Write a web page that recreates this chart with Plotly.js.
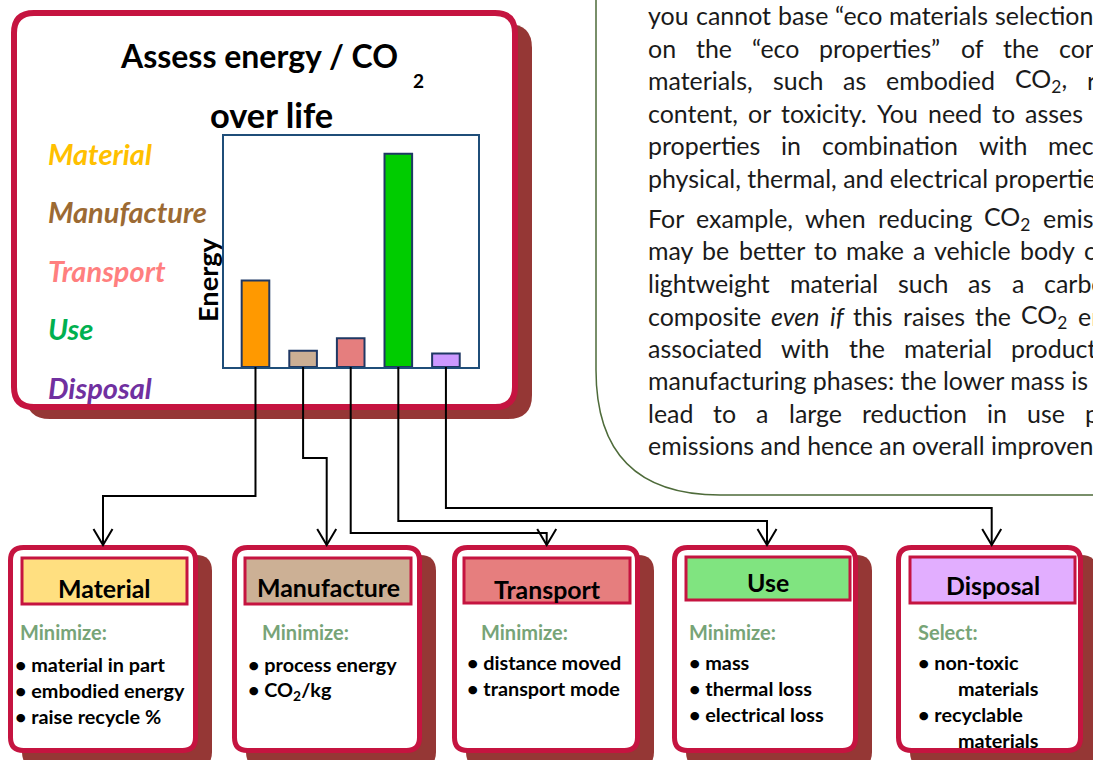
<!DOCTYPE html>
<html><head><meta charset="utf-8">
<script src="https://cdn.plot.ly/plotly-3.0.1.min.js"></script>
<style>html,body{margin:0;padding:0;background:#fff;overflow:hidden}</style>
</head><body><div id="chart" style="width:1093px;height:760px"></div>
<script>
// ---------- data ----------
const phases = ['Material','Manufacture','Transport','Use','Disposal'];
const energy = [37.4, 7.0, 12.5, 92.3, 5.8];
const barColors = ['#FF9900','#CBAF94','#E57E7E','#00CC00','#CC99FF'];
const labelColors = ['#FFC000','#9C6A33','#FF7F7F','#00B050','#7030A0'];
const headerFills = ['#FFDF80','#CCB095','#E67E7E','#80E480','#E2AEFF'];
const actionWords = ['Minimize:','Minimize:','Minimize:','Minimize:','Select:'];
const actionItems = [
  ['• material in part','• embodied energy','• raise recycle %'],
  ['• process energy','• CO<sub>2</sub>/kg'],
  ['• distance moved','• transport mode'],
  ['• mass','• thermal loss','• electrical loss'],
  ['• non-toxic','>materials','• recyclable','>materials']
];
const titleLine1 = 'Assess energy / CO';
const titleSub = '2';
const titleLine2 = 'over life';
const yTitle = 'Energy';
const paraLines = [
  ['you cannot base “eco materials selection', 7],
  ['on the “eco properties” of the con', 20],
  ['materials, such as embodied CO<sub>2</sub>, r', 20],
  ['content, or toxicity. You need to asses', 10],
  ['properties in combination with mec', 21],
  ['physical, thermal, and electrical propertie', null],
  ['For example, when reducing CO<sub>2</sub> emis', 12],
  ['may be better to make a vehicle body o', 9],
  ['lightweight material such as a carbo', 20],
  ['composite <i>even if</i> this raises the CO<sub>2</sub> em', 10],
  ['associated with the material producti', 19],
  ['manufacturing phases: the lower mass is', null],
  ['lead to a large reduction in use pha', 20],
  ['emissions and hence an overall improven', null]
];

// ---------- geometry helpers ----------
const W = 1093, H = 760;
const X = p => p / W, Y = p => 1 - p / H;
const FONT = 'Lato, "Open Sans", sans-serif';
function rr(x0, y0, x1, y1, r) {
  return `M${X(x0+r)},${Y(y0)} L${X(x1-r)},${Y(y0)} Q${X(x1)},${Y(y0)} ${X(x1)},${Y(y0+r)} ` +
         `L${X(x1)},${Y(y1-r)} Q${X(x1)},${Y(y1)} ${X(x1-r)},${Y(y1)} L${X(x0+r)},${Y(y1)} ` +
         `Q${X(x0)},${Y(y1)} ${X(x0)},${Y(y1-r)} L${X(x0)},${Y(y0+r)} Q${X(x0)},${Y(y0)} ${X(x0+r)},${Y(y0)} Z`;
}
function poly(pts) { return pts.map((p, i) => (i ? 'L' : 'M') + X(p[0]) + ',' + Y(p[1])).join(' '); }
const shapes = [], annotations = [];
function addShape(path, fill, color, width, layer) {
  shapes.push({type: 'path', xref: 'paper', yref: 'paper', path: path, layer: layer || 'below',
    fillcolor: fill || 'rgba(0,0,0,0)', line: {color: color || 'rgba(0,0,0,0)', width: width || 0}});
}
function ann(text, x, y, o) {
  o = o || {};
  annotations.push({text: text, x: X(x), y: Y(y), xref: 'paper', yref: 'paper', showarrow: false,
    xanchor: o.xa || 'left', yanchor: 'middle', borderpad: 0, borderwidth: 0, textangle: o.angle || 0,
    font: {family: FONT, size: o.size || 17, color: o.color || '#000', weight: o.weight || 'normal', style: o.style || 'normal'}});
}
const cv = document.createElement('canvas').getContext('2d');
function measure(txt, size, italic, bold) {
  let w = 0;
  const parts = txt.split(/<sub>(.*?)<\/sub>/);
  parts.forEach((s, k) => {
    const sz = k % 2 ? size * 0.7 : size;
    cv.font = `${italic ? 'italic ' : ''}${bold ? 'bold ' : ''}${sz}px ${FONT}`;
    w += cv.measureText(s).width;
  });
  return w;
}
// font size giving a text the width it has in the reference picture
const fit = (txt, target, italic, bold) => 20 * target / measure(txt, 20, italic, bold);

// ---------- plot frame ----------
const frame = {l: 224.3, r: 478.3, t: 136, b: 367};
const xr = [-0.655, 4.68];
const barPx = i => frame.l + (i - xr[0]) / (xr[1] - xr[0]) * (frame.r - frame.l);

// ---------- big box ----------
const CRIMSON = '#C51440', SHADOW = '#953735';
addShape(rr(26, 24, 532, 419, 24), SHADOW);
addShape(rr(14, 13, 515, 407, 20), '#fff', CRIMSON, 6);

// ---------- text box (green border) ----------
addShape(`M${X(596)},${Y(0)} L${X(596)},${Y(370)} Q${X(596)},${Y(495)} ${X(720)},${Y(495)} L${X(1093)},${Y(495)}`, null, '#4E6B3A', 1.5);

// ---------- bottom boxes ----------
const headSize = fit('Manufacture', 143, false, true);
const actSize = fit('Minimize:', 87, false, true);
const itemSize = fit('• material in part', 150, false, true);
const boxes = [[8,198],[232,422],[452,640],[672,858],[896,1083]];
const heads = [[22,187,558,604],[245,411,558,604],[464,630,558,603],[686,850,557,600],[910,1075,557,603]];
const headY = [588,587,589,582,585];
const actX = [20,262,481,689,918];
const itemX = [15,248,467,689,918];
const itemY0 = [664,664,662,662,662];
boxes.forEach((b, i) => {
  addShape(rr(b[0]+14, 555, b[1]+14, 768, 16), SHADOW);
  addShape(rr(b[0]+2.5, 547.5, b[1]-2.5, 750.5, 13), '#fff', CRIMSON, 5);
  const h = heads[i];
  addShape(poly([[h[0],h[2]],[h[1],h[2]],[h[1],h[3]],[h[0],h[3]]]) + ' Z', headerFills[i], CRIMSON, 3);
  ann(phases[i], (h[0]+h[1])/2, headY[i], {xa: 'center', size: headSize, weight: 'bold'});
  ann(actionWords[i], actX[i], 632, {size: actSize, weight: 'bold', color: '#77A477'});
  actionItems[i].forEach((t, k) => {
    const indent = t.startsWith('>');
    ann(indent ? t.slice(1) : t, itemX[i] + (indent ? 40 : 0), itemY0[i] + 26*k, {size: itemSize, weight: 'bold'});
  });
});

// ---------- connectors ----------
const routeY = [496, 458, 533, 521, 508];
const targetX = [103, 326.7, 546.7, 767, 991.7];
phases.forEach((p, i) => {
  const x0 = barPx(i);
  addShape(poly([[x0, frame.b], [x0, routeY[i]], [targetX[i], routeY[i]], [targetX[i], 545]]), null, '#000', 2, 'above');
  addShape(poly([[targetX[i]-9.5, 529], [targetX[i], 545], [targetX[i]+9.5, 529]]), null, '#000', 2, 'above');
});

// ---------- big box texts ----------
ann(titleLine1, 259, 55, {xa: 'center', size: fit(titleLine1, 278, false, true), weight: 'bold'});
ann(titleSub, 418, 80, {xa: 'center', size: 19, weight: 'bold'});
ann(titleLine2, 271, 115, {xa: 'center', size: fit(titleLine2, 124, false, true), weight: 'bold'});
ann(yTitle, 207, 280, {xa: 'center', size: fit(yTitle, 84, false, true), weight: 'bold', angle: -90});
const labelY = [153, 212, 270, 328, 387];
const labSize = fit('Manufacture', 159, true, true);
phases.forEach((p, i) => ann(p, 48, labelY[i], {size: labSize, weight: 'bold', style: 'italic', color: labelColors[i]}));

// ---------- paragraph (justified lines laid out word by word) ----------
const pSize = fit(paraLines[5][0], 448, false, false);
const paraY = [15,48,80,113,145,178,218,250,283,316,348,380,413,445];
const PX0 = 648;
paraLines.forEach((ln, j) => {
  const [txt, gap] = ln;
  if (gap === null) { ann(txt, PX0, paraY[j], {size: pSize, color: '#1a1a1a'}); return; }
  let x = PX0, it = false;
  txt.split(' ').forEach(tok => {
    let t = tok;
    if (t.includes('<i>')) { it = true; t = t.replace('<i>', ''); }
    const endIt = t.includes('</i>'); t = t.replace('</i>', '');
    ann(it ? `<i>${t}</i>` : t, x, paraY[j], {size: pSize, color: '#1a1a1a'});
    x += measure(t, pSize, it, false) + gap;
    if (endIt) it = false;
  });
});

// ---------- bar trace ----------
const trace = {
  type: 'bar', x: phases, y: energy, width: 0.58,
  marker: {color: barColors, line: {color: '#1F3864', width: 2}},
  hoverinfo: 'skip'
};
const layout = {
  width: W, height: H, margin: {l: 0, r: 0, t: 0, b: 0},
  paper_bgcolor: '#fff', plot_bgcolor: 'rgba(0,0,0,0)', showlegend: false,
  xaxis: {domain: [X(frame.l), X(frame.r)], range: xr, type: 'category', showticklabels: false,
    ticks: '', showgrid: false, zeroline: false, showline: true, mirror: true, linecolor: '#1F4E79', linewidth: 2},
  yaxis: {domain: [Y(frame.b), Y(frame.t)], range: [0, 100], showticklabels: false, ticks: '',
    showgrid: false, zeroline: false, showline: true, mirror: true, linecolor: '#1F4E79', linewidth: 2},
  shapes: shapes, annotations: annotations
};
Plotly.newPlot('chart', [trace], layout, {staticPlot: true, displayModeBar: false});
</script></body></html>
